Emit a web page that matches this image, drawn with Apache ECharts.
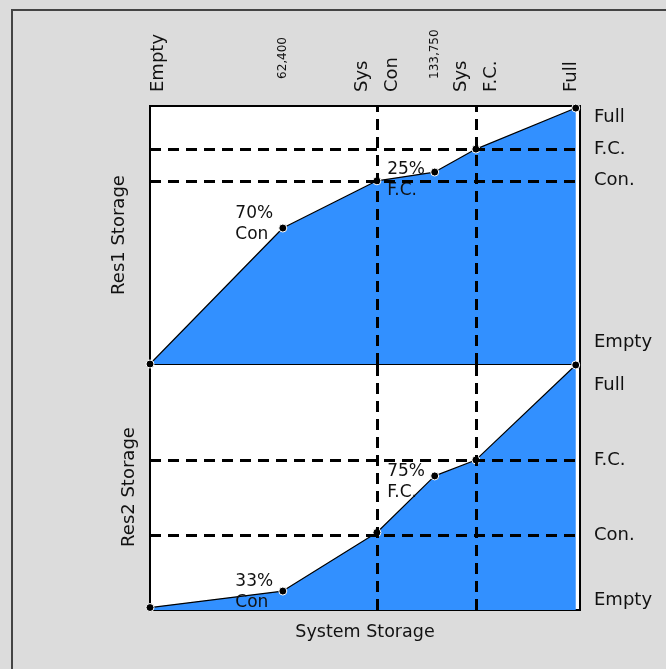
<!DOCTYPE html>
<html>
<head>
<meta charset="utf-8">
<script src="https://cdn.jsdelivr.net/npm/echarts@6/dist/echarts.min.js"></script>
<style>
html,body{margin:0;padding:0;background:#dcdcdc;}
#main{width:666px;height:669px;}
</style>
</head>
<body>
<div id="main"></div>
<script>
// system storage along x, reservoir storage as % of full
var sysStorage = [0, 62400, 106600, 133750, 153100, 200000];
var res1Storage = [0, 52.7, 71, 74.4, 83.3, 99.2];
var res2Storage = [1, 7.7, 31.5, 54.5, 61, 99.6];
var res1Notes = ['', '70%\nCon', '', '25%\nF.C.', '', ''];
var res2Notes = ['', '33%\nCon', '', '75%\nF.C.', '', ''];

// rule levels (dashed lines)
var sysLevels = [106600, 153100];   // Sys Con, Sys F.C.
var res1Levels = [71, 83.3];        // Con., F.C.
var res2Levels = [30.5, 61];

// tick labels
var topTicks = [0, 62400, 106600, 133750, 153100, 200000];
var topTickLabels = ['Empty', '62,400', 'Sys\nCon', '133,750', 'Sys\nF.C.', 'Full'];
var res1Ticks = [8.5, 71, 83.3, 95.7];
var res2Ticks = [4, 30.5, 61, 91.5];
var resTickLabels = ['Empty', 'Con.', 'F.C.', 'Full'];
var sysMax = 202000;

var FONT = 'DejaVu Sans';
var TXT = '#111';

// label nudges for the point notes
var res1NoteOffset = {1: [0, -4], 3: [0, 8]};
var res2NoteOffset = {1: [0, 1], 3: [0, 6]};

var myChart = echarts.init(document.getElementById('main'));

function topLabel(v) {
  var i = topTicks.indexOf(v);
  var t = topTickLabels[i];
  if (i === 0) return '{e|' + t + '}';
  if (i === topTicks.length - 1) return '{f|' + t + '}';
  if (t.indexOf('\n') >= 0) {
    return t.split('\n').map(function (s) { return '{b|' + s + '}'; }).join('\n');
  }
  return '{s|' + t + '}';
}

function resLabel(ticks) {
  return function (v) {
    var i = ticks.indexOf(v);
    return i >= 0 ? resTickLabels[i] : '';
  };
}

function makeSeries(idx, values, notes, offsets, levels) {
  return {
    type: 'line',
    xAxisIndex: idx,
    yAxisIndex: idx * 2,
    symbol: 'circle',
    symbolSize: 8,
    itemStyle: {color: '#000', borderColor: '#fff', borderWidth: 1},
    lineStyle: {color: '#000', width: 1.2},
    areaStyle: {color: '#3290ff', opacity: 1},
    z: 3,
    data: sysStorage.map(function (x, i) {
      var item = {value: [x, values[i]]};
      if (notes[i]) {
        item.label = {
          show: true,
          position: 'left',
          distance: 5,
          offset: offsets[i] || [0, 0],
          formatter: notes[i].split('\n').map(function (s) { return '{a|' + s + '}'; }).join('\n'),
          rich: {
            a: {width: 38, align: 'left', lineHeight: 21, fontSize: 17, fontFamily: FONT, color: TXT}
          }
        };
      }
      return item;
    }),
    markLine: {
      silent: true,
      symbol: ['none', 'none'],
      label: {show: false},
      lineStyle: {color: '#000', width: 3, type: [11, 7]},
      data: levels.map(function (y) { return {yAxis: y}; })
        .concat(sysLevels.map(function (x) { return {xAxis: x}; }))
    }
  };
}

myChart.setOption({
  animation: false,
  backgroundColor: '#dcdcdc',
  graphic: [{
    type: 'polyline',
    shape: {points: [[12, 669], [12, 10], [666, 10]]},
    style: {stroke: '#444', lineWidth: 2, fill: null}
  }],
  grid: [
    {left: 150, right: 86, top: 106, height: 258, show: true, backgroundColor: '#fff',
     borderColor: '#000', borderWidth: 2, outerBoundsMode: 'none'},
    {left: 150, right: 86, top: 364, height: 246, show: true, backgroundColor: '#fff',
     borderColor: '#000', borderWidth: 2, outerBoundsMode: 'none'}
  ],
  xAxis: [
    {
      type: 'value', gridIndex: 0, position: 'top', min: 0, max: sysMax,
      axisLine: {show: false}, axisTick: {show: false}, splitLine: {show: false},
      axisLabel: {
        rotate: 90,
        margin: 14,
        customValues: topTicks,
        formatter: topLabel,
        rich: {
          e: {fontSize: 18, fontFamily: FONT, color: TXT, padding: [16, 0, 0, 0]},
          f: {fontSize: 18, fontFamily: FONT, color: TXT, padding: [0, 0, 8, 0]},
          b: {fontSize: 18, fontFamily: FONT, color: TXT, lineHeight: 30},
          s: {fontSize: 12, fontFamily: FONT, color: TXT, padding: [0, 0, 0, 13]}
        }
      }
    },
    {
      type: 'value', gridIndex: 1, position: 'bottom', min: 0, max: sysMax,
      axisLine: {show: false}, axisTick: {show: false}, splitLine: {show: false},
      axisLabel: {show: false},
      name: 'System Storage', nameLocation: 'middle', nameGap: 13,
      nameTextStyle: {fontSize: 17.5, fontFamily: FONT, color: TXT}
    }
  ],
  yAxis: [
    {
      type: 'value', gridIndex: 0, position: 'left', min: 0, max: 100,
      axisLine: {show: false}, axisTick: {show: false}, splitLine: {show: false},
      axisLabel: {show: false},
      name: 'Res1 Storage', nameLocation: 'middle', nameGap: 22,
      nameTextStyle: {fontSize: 18, fontFamily: FONT, color: TXT}
    },
    {
      type: 'value', gridIndex: 0, position: 'right', min: 0, max: 100,
      axisLine: {show: false}, axisTick: {show: false}, splitLine: {show: false},
      axisLabel: {margin: 14, customValues: res1Ticks, formatter: resLabel(res1Ticks),
        fontSize: 18, fontFamily: FONT, color: TXT}
    },
    {
      type: 'value', gridIndex: 1, position: 'left', min: 0, max: 100,
      axisLine: {show: false}, axisTick: {show: false}, splitLine: {show: false},
      axisLabel: {show: false},
      name: 'Res2 Storage', nameLocation: 'middle', nameGap: 12,
      nameTextStyle: {fontSize: 18, fontFamily: FONT, color: TXT}
    },
    {
      type: 'value', gridIndex: 1, position: 'right', min: 0, max: 100,
      axisLine: {show: false}, axisTick: {show: false}, splitLine: {show: false},
      axisLabel: {margin: 14, customValues: res2Ticks, formatter: resLabel(res2Ticks),
        fontSize: 18, fontFamily: FONT, color: TXT}
    }
  ],
  series: [
    makeSeries(0, res1Storage, res1Notes, res1NoteOffset, res1Levels),
    makeSeries(1, res2Storage, res2Notes, res2NoteOffset, res2Levels)
  ]
});
</script>
</body>
</html>
